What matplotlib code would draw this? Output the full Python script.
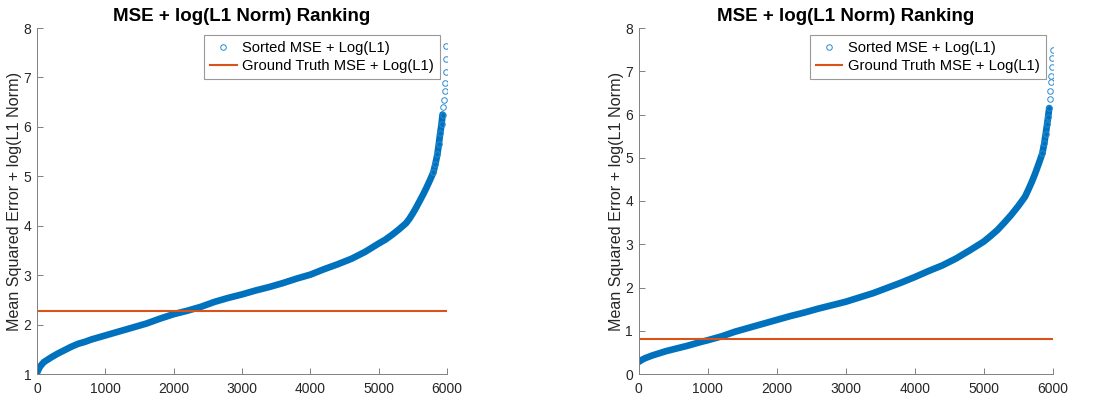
import numpy as np
import matplotlib
matplotlib.use('Agg')
import matplotlib.pyplot as plt

plt.rcParams['font.family'] = ['Liberation Sans', 'DejaVu Sans']

# sorted scores, first model
rank_a = [0, 25, 50, 100, 200, 300, 400, 500, 600, 700, 800, 1000, 1200, 1400,
          1600, 1800, 2000, 2200, 2400, 2600, 2800, 3000, 3200, 3400, 3600, 3800,
          4000, 4200, 4400, 4600, 4800, 5000, 5100, 5200, 5300, 5400, 5450, 5500,
          5550, 5600, 5650, 5700, 5750, 5800, 5830, 5860, 5880, 5900, 5920, 5935,
          5945, 5955, 5965, 5972, 5978, 5984, 5990]
score_a = [1.02, 1.10, 1.16, 1.24, 1.33, 1.41, 1.48, 1.55, 1.61, 1.65, 1.70, 1.78,
           1.86, 1.94, 2.02, 2.12, 2.21, 2.28, 2.36, 2.46, 2.54, 2.61, 2.69, 2.76,
           2.84, 2.93, 3.01, 3.12, 3.22, 3.33, 3.47, 3.64, 3.72, 3.82, 3.93, 4.05,
           4.14, 4.25, 4.37, 4.50, 4.63, 4.77, 4.92, 5.08, 5.25, 5.45, 5.65, 5.87,
           6.05, 6.25, 6.40, 6.55, 6.72, 6.88, 7.10, 7.37, 7.63]
truth_a = 2.28

# sorted scores, second model
rank_b = [0, 50, 100, 200, 300, 400, 500, 700, 900, 1000, 1200, 1400, 1600, 1800,
          2000, 2200, 2400, 2600, 2800, 3000, 3200, 3400, 3600, 3800, 4000, 4200,
          4400, 4600, 4800, 5000, 5100, 5200, 5300, 5400, 5450, 5500, 5550, 5600,
          5650, 5700, 5750, 5800, 5850, 5880, 5900, 5920, 5935, 5950, 5960, 5968,
          5975, 5982, 5988, 5994, 6000]
score_b = [0.28, 0.33, 0.37, 0.43, 0.48, 0.53, 0.57, 0.65, 0.74, 0.78, 0.87, 0.98,
           1.07, 1.16, 1.25, 1.34, 1.42, 1.51, 1.59, 1.67, 1.77, 1.87, 1.99, 2.11,
           2.24, 2.38, 2.51, 2.67, 2.86, 3.06, 3.19, 3.33, 3.50, 3.68, 3.78, 3.88,
           3.99, 4.10, 4.27, 4.45, 4.65, 4.87, 5.10, 5.35, 5.56, 5.78, 5.95, 6.15,
           6.35, 6.55, 6.75, 6.90, 7.10, 7.30, 7.50]
truth_b = 0.80

blue = '#0072BD'
orange = '#D95319'
gray = '#262626'

fig = plt.figure(figsize=(11.04, 4), dpi=100)
ax1 = fig.add_axes([0.0335, 0.065, 0.3714, 0.865])
ax2 = fig.add_axes([0.5785, 0.065, 0.375, 0.865])

for ax, xs, ys, gt, ylo in [(ax1, rank_a, score_a, truth_a, 1),
                            (ax2, rank_b, score_b, truth_b, 0)]:
    xs = np.array(xs); ys = np.array(ys)
    body = ys < 6.3
    tail = ys > 5.0
    # dense part of the curve looks like a solid band, the top end as loose circles
    ax.plot(xs[body], ys[body], '-', color=blue, lw=4.8, solid_capstyle='round')
    pts, = ax.plot(xs[tail], ys[tail], 'o', color='#2a8ad0', mfc='none', ms=4,
                   mew=0.7, label='Sorted MSE + Log(L1)')
    gl, = ax.plot([0, 6000], [gt, gt], '-', color=orange, lw=1.5,
                  label='Ground Truth MSE + Log(L1)')
    ax.set_xlim(0, 6000)
    ax.set_ylim(ylo, 8)
    ax.set_xticks(np.arange(0, 6001, 1000))
    ax.set_yticks(np.arange(ylo, 9, 1))
    for s in ['top', 'right']:
        ax.spines[s].set_visible(False)
    for s in ['left', 'bottom']:
        ax.spines[s].set_color('#808080')
        ax.spines[s].set_linewidth(0.7)
    ax.tick_params(direction='in', length=4, width=0.7, color='#808080',
                   labelsize=10, labelcolor=gray)
    ax.tick_params(axis='x', pad=6)
    ax.tick_params(axis='y', pad=4)
    ax.set_title('MSE + log(L1 Norm) Ranking', fontsize=13.5, fontweight='bold',
                 pad=5)
    ax.set_ylabel('Mean Squared Error + log(L1 Norm)', fontsize=11.6,
                  color=gray, labelpad=1)
    leg = ax.legend(handles=[pts, gl], loc='upper right',
                    bbox_to_anchor=(0.983, 0.98), borderaxespad=0,
                    fontsize=10.6, fancybox=False, framealpha=1,
                    handlelength=1.8, handletextpad=0.4, borderpad=0.4,
                    labelspacing=0.3)
    leg.get_frame().set_edgecolor('#999999')
    leg.get_frame().set_linewidth(0.8)

plt.savefig('out.png', dpi=100)
